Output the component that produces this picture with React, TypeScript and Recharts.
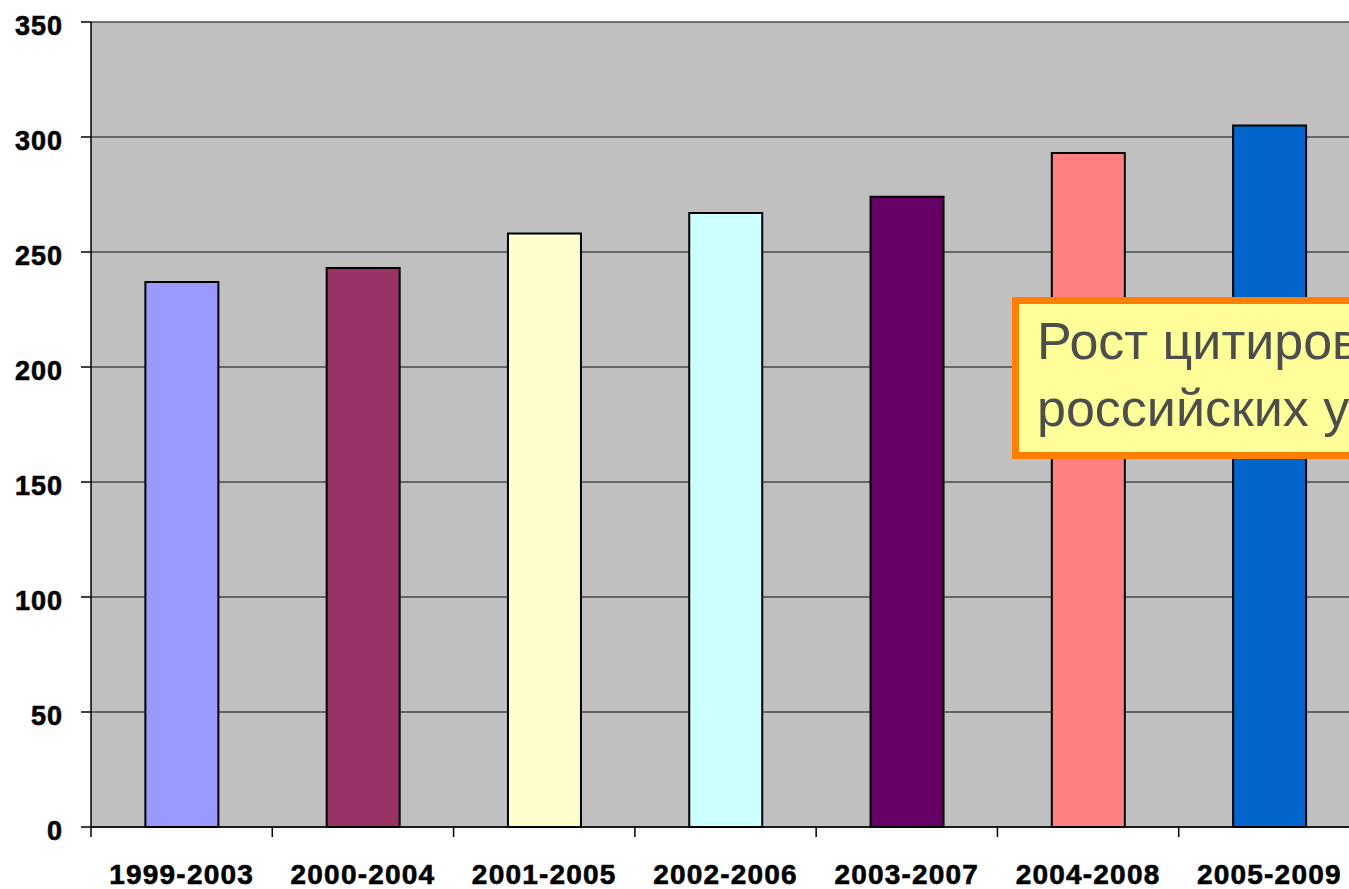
import { Bar, BarChart, CartesianGrid, Cell, XAxis, YAxis } from "recharts";

const periods = ["1999-2003", "2000-2004", "2001-2005", "2002-2006", "2003-2007", "2004-2008", "2005-2009"];
const citations = [237, 243, 258, 267, 274, 293, 305];
const barColors = ["#9999FF", "#993366", "#FFFFCC", "#CCFFFF", "#660066", "#FF8080", "#0066CC"];
const yTicks = [0, 50, 100, 150, 200, 250, 300, 350];

const data = periods.map((period, i) => ({ period, value: citations[i] }));

const FONT = '"Liberation Sans", Arial, sans-serif';

// category label centred in the band, tick mark at the band's left edge
function PeriodTick(props: any) {
  const { x, y, payload } = props;
  const half = payload?.offset ?? 0;
  return (
    <g>
      <line x1={x - half} x2={x - half} y1={y} y2={y + 10} stroke="#000" strokeWidth={1.5} />
      <text
        x={x}
        y={y + 57}
        textAnchor="middle"
        fontFamily={FONT}
        fontWeight="bold"
        fontSize={28}
        letterSpacing={1.2}
        fill="#000"
        stroke="#000"
        strokeWidth={0.6}
      >
        {payload.value}
      </text>
    </g>
  );
}

export default function App() {
  return (
    <div
      style={{
        position: "fixed", left: 0, top: 0, width: 1349, height: 889,
        overflow: "hidden", background: "#fff",
      }}
    >
      <BarChart
        width={1370}
        height={889}
        data={data}
        margin={{ top: 22, right: 10, left: 0, bottom: 0 }}
        barCategoryGap="30%"
      >
        <CartesianGrid vertical={false} stroke="#4a4a4a" strokeWidth={1.5} fill="#C0C0C0" />
        <XAxis
          dataKey="period"
          height={62}
          tickLine={false}
          tickSize={0}
          tickMargin={0}
          axisLine={{ stroke: "#000", strokeWidth: 1.5 }}
          tick={<PeriodTick />}
          interval={0}
        />
        <YAxis
          width={91}
          domain={[0, 350]}
          ticks={yTicks}
          interval={0}
          tickSize={10}
          tickMargin={18}
          axisLine={{ stroke: "#000", strokeWidth: 1.5 }}
          tickLine={{ stroke: "#000", strokeWidth: 1.5 }}
          tick={{
            fill: "#000", stroke: "#000", strokeWidth: 0.6, fontSize: 27, fontWeight: "bold",
            fontFamily: FONT, letterSpacing: 1, dy: 3,
          }}
        />
        <Bar dataKey="value" stroke="#000" strokeWidth={2} isAnimationActive={false}>
          {data.map((d, i) => (
            <Cell key={d.period} fill={barColors[i]} />
          ))}
        </Bar>
      </BarChart>
      <div
        style={{
          position: "absolute", left: 1012, top: 297, width: 420, height: 162,
          boxSizing: "border-box", border: "7px solid #FF8000", background: "#FFFF99",
          padding: "4px 0 0 18px", fontFamily: FONT, fontSize: 52, lineHeight: "67px",
          color: "#4D4D4D", whiteSpace: "nowrap",
        }}
      >
        <div>Рост цитирования</div>
        <div>российских учёных</div>
      </div>
    </div>
  );
}
